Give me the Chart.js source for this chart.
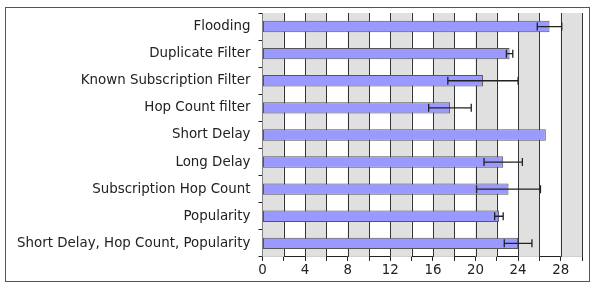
<!DOCTYPE html>
<html>
<head>
<meta charset="utf-8">
<script src="https://cdn.jsdelivr.net/npm/chart.js@4"></script>
<style>
  body { margin: 0; background: #fff; }
  #wrap { position: relative; width: 595px; height: 287px; }
  #frame { position: absolute; left: 5px; top: 7px; width: 583px; height: 273px; border: 1px solid #555; }
  #chart { position: absolute; left: 0; top: 0; }
</style>
</head>
<body>
<div id="wrap">
  <div id="frame"></div>
  <canvas id="chart" width="595" height="287"></canvas>
</div>
<script>
// categories and measured values
const categories = [
    "Flooding",
    "Duplicate Filter",
    "Known Subscription Filter",
    "Hop Count filter",
    "Short Delay",
    "Long Delay",
    "Subscription Hop Count",
    "Popularity",
    "Short Delay, Hop Count, Popularity"
];
const values = [26.95, 23.2, 20.7, 17.6, 26.6, 22.6, 23.1, 22.2, 24.0];
const errors = [1.15, 0.3, 3.3, 2.0, 0, 1.8, 3.0, 0.4, 1.3];
const xMin = 0;
const xMax = 30;
const xStep = 2;
const labelStep = 4;

// alternating grey bands between the vertical grid lines
const bandPlugin = {
    id: "bands",
    beforeDatasetsDraw(chart) {
        const { ctx, chartArea, scales } = chart;
        const x = scales.x;
        ctx.save();
        ctx.fillStyle = "#e0e0e0";
        for (let v = xMin; v < xMax; v += xStep * 2) {
            const x0 = x.getPixelForValue(v);
            const x1 = x.getPixelForValue(Math.min(v + xStep, xMax));
            ctx.fillRect(x0, chartArea.top, x1 - x0, chartArea.bottom - chartArea.top);
        }
        // vertical grid lines on top of the bands
        ctx.strokeStyle = "#333";
        ctx.lineWidth = 1;
        for (let v = xMin + xStep; v <= xMax; v += xStep) {
            const px = Math.round(x.getPixelForValue(v)) + 0.5;
            ctx.beginPath();
            ctx.moveTo(px, chartArea.top);
            ctx.lineTo(px, chartArea.bottom);
            ctx.stroke();
        }
        ctx.restore();
    }
};

// error bars drawn from the value / error arrays
const errorPlugin = {
    id: "errorBars",
    afterDatasetsDraw(chart) {
        const { ctx, scales } = chart;
        const meta = chart.getDatasetMeta(0);
        ctx.save();
        ctx.strokeStyle = "#222";
        ctx.lineWidth = 1.3;
        meta.data.forEach((bar, i) => {
            const e = errors[i];
            if (!e) return;
            const lo = scales.x.getPixelForValue(values[i] - e);
            const hi = scales.x.getPixelForValue(values[i] + e);
            const y = bar.y;
            const cap = 4;
            ctx.beginPath();
            ctx.moveTo(lo, y);
            ctx.lineTo(hi, y);
            ctx.moveTo(lo, y - cap);
            ctx.lineTo(lo, y + cap);
            ctx.moveTo(hi, y - cap);
            ctx.lineTo(hi, y + cap);
            ctx.stroke();
        });
        ctx.restore();
    }
};

const tickFont = { family: "DejaVu Sans", size: 13.4 };

new Chart(document.getElementById("chart"), {
    type: "bar",
    data: {
        labels: categories,
        datasets: [{
            data: values,
            backgroundColor: "#9999ff",
            borderColor: "#555",
            borderWidth: 1,
            borderSkipped: false,
            barPercentage: 0.42,
            categoryPercentage: 1
        }]
    },
    options: {
        indexAxis: "y",
        responsive: false,
        animation: false,
        layout: { padding: { top: 13, right: 13, bottom: 6, left: 9 } },
        plugins: {
            legend: { display: false },
            tooltip: { enabled: false }
        },
        scales: {
            x: {
                min: xMin,
                max: xMax,
                border: { color: "#222", width: 1 },
                grid: { drawOnChartArea: false, color: "#222", tickLength: 4 },
                ticks: {
                    stepSize: xStep,
                    autoSkip: false,
                    maxRotation: 0,
                    color: "#222",
                    padding: 2,
                    font: tickFont,
                    callback: v => (v % labelStep === 0 && v < xMax) ? String(v) : ""
                }
            },
            y: {
                border: { color: "#222", width: 1 },
                grid: { offset: true, drawOnChartArea: false, color: "#222", tickLength: 4 },
                ticks: {
                    color: "#222",
                    padding: 8,
                    font: tickFont
                },
                // labels sit mid-category, so no extra room is needed above/below
                afterFit(scale) {
                    scale.paddingTop = 0;
                    scale.paddingBottom = 0;
                }
            }
        }
    },
    plugins: [bandPlugin, errorPlugin]
});
</script>
</body>
</html>
